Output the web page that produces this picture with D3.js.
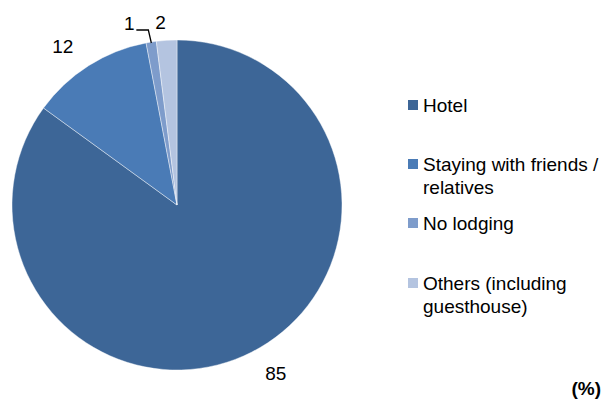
<!DOCTYPE html>
<html>
<head>
<meta charset="utf-8">
<script src="https://cdn.jsdelivr.net/npm/d3@7"></script>
<style>
  html, body { margin: 0; padding: 0; background: #fff; }
  svg { display: block; font-family: "Liberation Sans", Arial, sans-serif; }
</style>
</head>
<body>
<svg id="chart" width="610" height="402"></svg>
<script>
// Lodging type shares (%)
const categories = ["Hotel", "Staying with friends / relatives", "No lodging", "Others (including guesthouse)"];
const values = [85, 12, 1, 2];
const legendLines = [["Hotel"], ["Staying with friends /", "relatives"], ["No lodging"], ["Others (including", "guesthouse)"]];
const colors = ["#3d6697", "#4a7bb6", "#7e9ccb", "#b4c4e0"];

const svg = d3.select("#chart");
const cx = 177, cy = 205, r = 165;
const fontSize = 19;

const pie = d3.pie().sort(null).value(d => d)(values);
const arc = d3.arc().innerRadius(0).outerRadius(r);

const g = svg.append("g").attr("transform", `translate(${cx},${cy})`);
g.selectAll("path").data(pie).join("path")
  .attr("d", arc)
  .attr("fill", (d, i) => colors[i])
  .attr("stroke", "#ffffff")
  .attr("stroke-width", 0.6)
  .attr("stroke-opacity", 0.7);

const lab = svg.append("g").attr("font-size", fontSize).attr("fill", "#000");
const polar = (a, rr) => [cx + rr * Math.sin(a), cy - rr * Math.cos(a)];
const mid = d => (d.startAngle + d.endAngle) / 2;

// 85: outside the lower edge, slightly rotated from the bisector
{
  const [x, y] = polar(mid(pie[0]) - 0.06, r + 30);
  lab.append("text").attr("x", x).attr("y", y).attr("text-anchor", "middle")
    .attr("dominant-baseline", "central").text(values[0]);
}
// 12: along its bisector
{
  const [x, y] = polar(mid(pie[1]) - 0.06, r + 30);
  lab.append("text").attr("x", x).attr("y", y).attr("text-anchor", "middle")
    .attr("dominant-baseline", "central").text(values[1]);
}
// 1: with a leader line from the slice edge
{
  const [ex, ey] = polar(mid(pie[2]), r - 1);
  const elbowY = ey - 13;
  svg.append("path")
    .attr("d", `M${ex},${ey} L${ex - 3},${elbowY} L${ex - 15},${elbowY}`)
    .attr("fill", "none").attr("stroke", "#000").attr("stroke-width", 1.3);
  lab.append("text").attr("x", ex - 22).attr("y", elbowY - 7)
    .attr("text-anchor", "middle").attr("dominant-baseline", "central").text(values[2]);
}
// 2: above its slice
{
  const [x, y] = polar(mid(pie[3]), r);
  lab.append("text").attr("x", x - 6).attr("y", y - 18)
    .attr("text-anchor", "middle").attr("dominant-baseline", "central").text(values[3]);
}

// Legend
const legendY = [105, 164, 223, 283];
const lg = svg.append("g").attr("font-size", fontSize).attr("fill", "#000");
categories.forEach((c, i) => {
  lg.append("rect").attr("x", 408).attr("y", legendY[i] - 5).attr("width", 10).attr("height", 10)
    .attr("fill", colors[i]);
  legendLines[i].forEach((t, j) => {
    lg.append("text").attr("x", 423).attr("y", legendY[i] + j * 23)
      .attr("dominant-baseline", "central").text(t);
  });
});

svg.append("text").attr("x", 601).attr("y", 388).attr("text-anchor", "end")
  .attr("dominant-baseline", "central").attr("font-size", fontSize).attr("font-weight", "bold")
  .text("(%)");
</script>
</body>
</html>
